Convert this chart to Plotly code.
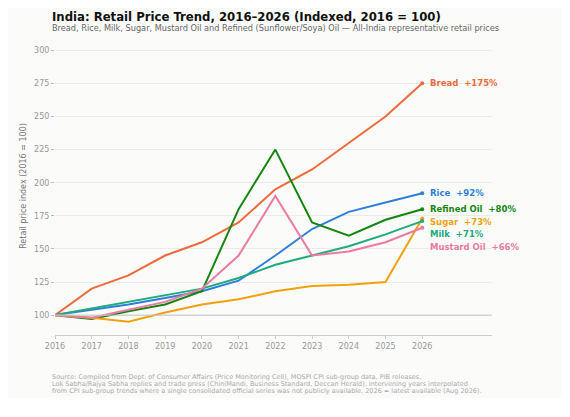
import plotly.graph_objects as go

years = [2016, 2017, 2018, 2019, 2020, 2021, 2022, 2023, 2024, 2025, 2026]

bread = [100, 120, 130, 145, 155, 170, 195, 210, 230, 250, 275]
rice = [100, 104, 108, 113, 118, 126, 145, 165, 178, 185, 192]
refined_oil = [100, 97, 103, 108, 118, 180, 225, 170, 160, 172, 180]
sugar = [100, 98, 95, 102, 108, 112, 118, 122, 123, 125, 173]
milk = [100, 105, 110, 115, 120, 128, 138, 145, 152, 161, 171]
mustard_oil = [100, 98, 104, 110, 120, 145, 190, 145, 148, 155, 166]

names = ["Bread", "Rice", "Refined Oil", "Sugar", "Milk", "Mustard Oil"]
series = [bread, rice, refined_oil, sugar, milk, mustard_oil]
colors = ["#EC6B3C", "#2F7FD9", "#14860F", "#F0A20C", "#1FAA7F", "#EA7BA3"]

title_text = "India: Retail Price Trend, 2016–2026 (Indexed, 2016 = 100)"
subtitle_text = "Bread, Rice, Milk, Sugar, Mustard Oil and Refined (Sunflower/Soya) Oil — All-India representative retail prices"
source_lines = [
	"Source: Compiled from Dept. of Consumer Affairs (Price Monitoring Cell), MOSPI CPI sub-group data, PIB releases,",
	"Lok Sabha/Rajya Sabha replies and trade press (ChiniMandi, Business Standard, Deccan Herald). Intervening years interpolated",
	"from CPI sub-group trends where a single consolidated official series was not publicly available. 2026 = latest available (Aug 2026).",
]

W, H = 562, 390
FONT = "DejaVu Sans"

fig = go.Figure()

fig.add_hline(y=100, line=dict(color="#C4C4C4", width=1))

for name, vals, col in zip(names, series, colors):
	fig.add_trace(go.Scatter(x=years, y=vals, mode="lines", name=name,
		line=dict(color=col, width=2)))
	# end point dot
	fig.add_trace(go.Scatter(x=[years[-1]], y=[vals[-1]], mode="markers",
		marker=dict(color=col, size=4), showlegend=False, hoverinfo="skip"))

# end labels, pushed apart so they don't overlap
order = sorted(range(len(names)), key=lambda i: -series[i][-1])
gap = 9.5
prev = None
for i in order:
	y = series[i][-1]
	if prev is not None and y > prev - gap:
		y = prev - gap
	prev = y
	pct = series[i][-1] - 100
	fig.add_annotation(x=years[-1], y=y, xref="x", yref="y",
		text=f"<b>{names[i]}  +{pct}%</b>", showarrow=False,
		xanchor="left", yanchor="middle", xshift=6,
		font=dict(family=FONT, size=8.5, color=colors[i]))

# title + subtitle
fig.add_annotation(text=f"<b>{title_text}</b>", xref="paper", yref="paper",
	x=-5 / 437, y=1 + 20 / 298, xanchor="left", yanchor="middle", showarrow=False,
	font=dict(family=FONT, size=11.7, color="#111111"))
fig.add_annotation(text=subtitle_text, xref="paper", yref="paper",
	x=-5 / 437, y=1 + 9 / 298, xanchor="left", yanchor="middle", showarrow=False,
	font=dict(family=FONT, size=8.2, color="#666666"))

# source note, one annotation per line to keep it tight
for k, line in enumerate(source_lines):
	fig.add_annotation(text=line, xref="paper", yref="paper",
		x=-5 / 437, y=-(41.5 + 7.4 * k) / 298, xanchor="left", yanchor="middle",
		showarrow=False, font=dict(family=FONT, size=6.5, color="#AAAAAA"))

fig.update_layout(
	width=W, height=H,
	margin=dict(l=47, r=78, t=29, b=63),
	paper_bgcolor="#FBFBF9", plot_bgcolor="#FBFBF9",
	showlegend=False,
	font=dict(family=FONT, color="#999999", size=8),
)

fig.update_xaxes(range=[2016, 2027.9], tickvals=years, showgrid=False,
	showline=True, linecolor="#CCCCCC", ticks="outside", tickcolor="#CCCCCC",
	ticklen=3, tickfont=dict(size=8, color="#999999"), zeroline=False)
fig.update_yaxes(range=[85, 310], tickvals=[100, 125, 150, 175, 200, 225, 250, 275, 300],
	showgrid=True, gridcolor="#EBEBEB", ticks="outside", tickcolor="#BBBBBB", ticklen=3,
	showline=False, zeroline=False, tickfont=dict(size=8, color="#999999"),
	title=dict(text="Retail price index (2016 = 100)", font=dict(size=8, color="#777777"), standoff=6))

fig.write_html("out.html")
